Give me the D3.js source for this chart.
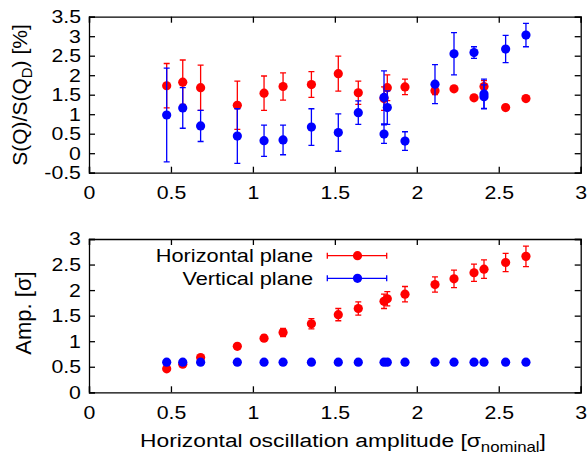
<!DOCTYPE html>
<html>
<head>
  <script src="https://cdn.jsdelivr.net/npm/d3@7"></script>
  <style>
    body { margin: 0; background: #fff; }
    text { font-family: "Liberation Sans", Arial, sans-serif; fill: #000; }
    .axis path, .axis line { stroke: #000; stroke-width: 1.3; }
    .axis text { font-size: 18.5px; }
  </style>
</head>
<body>
  <svg width="588" height="455" id="mainsvg"></svg>
  <script>
    // [x, value, error]
    const sqHorizontal = [
      [0.474, 1.73, 0.57], [0.572, 1.82, 0.57], [0.681, 1.68, 0.58], [0.905, 1.23, 0.62],
      [1.068, 1.54, 0.44], [1.184, 1.71, 0.35], [1.357, 1.76, 0.33], [1.521, 2.04, 0.45],
      [1.643, 1.55, 0.30], [1.800, 1.40, 0.30], [1.820, 1.68, 0.33], [1.928, 1.70, 0.20],
      [2.111, 1.60, 0.10], [2.227, 1.65, 0.05], [2.349, 1.42, 0.05], [2.410, 1.71, 0.15],
      [2.542, 1.17, 0.04], [2.666, 1.40, 0.04]
    ];
    const sqVertical = [
      [0.474, 0.98, 1.20], [0.572, 1.16, 0.52], [0.681, 0.70, 0.40], [0.905, 0.44, 0.70],
      [1.068, 0.32, 0.40], [1.184, 0.34, 0.38], [1.357, 0.67, 0.47], [1.521, 0.53, 0.48],
      [1.643, 1.04, 0.30], [1.800, 1.43, 0.68], [1.800, 0.49, 0.24], [1.820, 1.17, 0.43],
      [1.928, 0.31, 0.24], [2.111, 1.77, 0.50], [2.227, 2.55, 0.54], [2.349, 2.58, 0.15],
      [2.410, 1.52, 0.38], [2.410, 1.45, 0.30], [2.542, 2.67, 0.35], [2.666, 3.03, 0.30]
    ];
    const ampHorizontal = [
      [0.474, 0.46, 0.03], [0.572, 0.55, 0.03], [0.681, 0.68, 0.03], [0.905, 0.90, 0.04],
      [1.068, 1.06, 0.06], [1.184, 1.17, 0.08], [1.357, 1.34, 0.10], [1.521, 1.52, 0.12],
      [1.643, 1.64, 0.13], [1.800, 1.78, 0.14], [1.820, 1.83, 0.14], [1.928, 1.92, 0.15],
      [2.111, 2.11, 0.15], [2.227, 2.22, 0.17], [2.349, 2.34, 0.17], [2.410, 2.41, 0.18],
      [2.542, 2.54, 0.18], [2.666, 2.66, 0.20]
    ];
    const ampVertical = [
      [0.474, 0.59, 0], [0.572, 0.59, 0], [0.681, 0.59, 0], [0.905, 0.59, 0],
      [1.068, 0.59, 0], [1.184, 0.59, 0], [1.357, 0.59, 0], [1.521, 0.59, 0],
      [1.643, 0.59, 0], [1.800, 0.59, 0], [1.820, 0.59, 0], [1.928, 0.59, 0],
      [2.111, 0.59, 0], [2.227, 0.59, 0], [2.349, 0.59, 0], [2.410, 0.59, 0],
      [2.542, 0.59, 0], [2.666, 0.59, 0]
    ];
    const xTicks = [0, 0.5, 1, 1.5, 2, 2.5, 3];
    const sqTicks = [-0.5, 0, 0.5, 1, 1.5, 2, 2.5, 3, 3.5];
    const ampTicks = [0, 0.5, 1, 1.5, 2, 2.5, 3];
    const legendLabels = ["Horizontal plane", "Vertical plane"];
    const red = "#ff0000", blue = "#0000ff";

    const svg = d3.select('svg');
    const left = 89, right = 580.7;
    const stretch = 1.15; // the original lettering is a bit wider than tall
    const x = d3.scaleLinear().domain([0, 3]).range([left, right]);
    const ySq = d3.scaleLinear().domain([-0.5, 3.5]).range([172.7, 16.7]);
    const yAmp = d3.scaleLinear().domain([0, 3]).range([392.3, 239]);

    const fmt = d => String(d);

    function drawFrame(y, yticks) {
      const [yb, yt] = y.range();
      svg.append('g').attr('class', 'axis').attr('transform', `translate(0,${yb})`)
        .call(d3.axisBottom(x).tickValues(xTicks).tickSize(-6).tickPadding(13).tickFormat(fmt))
        .call(g => g.selectAll('text').attr('dy', '0.72em').attr('transform', `scale(${stretch},1)`));
      svg.append('g').attr('class', 'axis').attr('transform', `translate(0,${yt})`)
        .call(d3.axisTop(x).tickValues(xTicks).tickSize(-6).tickFormat(''));
      svg.append('g').attr('class', 'axis').attr('transform', `translate(${left},0)`)
        .call(d3.axisLeft(y).tickValues(yticks).tickSize(-6).tickPadding(7).tickFormat(fmt))
        .call(g => g.selectAll('text').attr('transform', `scale(${stretch},1)`));
      svg.append('g').attr('class', 'axis').attr('transform', `translate(${right},0)`)
        .call(d3.axisRight(y).tickValues(yticks).tickSize(-6).tickFormat(''));
      svg.selectAll('.axis .domain').attr('fill', 'none');
    }

    function drawSeries(data, y, color) {
      const g = svg.append('g');
      const cap = 3;
      const withErr = data.filter(d => d[2] > 0);
      g.selectAll('.eb').data(withErr).join('path')
        .attr('stroke', color).attr('stroke-width', 1.3).attr('fill', 'none')
        .attr('d', d => {
          const cx = x(d[0]), t = y(d[1] + d[2]), b = y(d[1] - d[2]);
          return `M${cx},${t}V${b}M${cx - cap},${t}H${cx + cap}M${cx - cap},${b}H${cx + cap}`;
        });
      g.selectAll('circle').data(data).join('circle')
        .attr('cx', d => x(d[0])).attr('cy', d => y(d[1])).attr('r', 4.6)
        .attr('fill', color);
    }

    drawFrame(ySq, sqTicks);
    drawFrame(yAmp, ampTicks);

    drawSeries(sqHorizontal, ySq, red);
    drawSeries(sqVertical, ySq, blue);
    drawSeries(ampHorizontal, yAmp, red);
    drawSeries(ampVertical, yAmp, blue);

    // legend
    const legend = svg.append('g');
    [red, blue].forEach((c, i) => {
      const ly = 255.7 + i * 22.6;
      legend.append('text').attr('transform', `translate(313,${ly}) scale(1.17,1)`).attr('dy', '0.36em')
        .attr('text-anchor', 'end').style('font-size', '18.6px').text(legendLabels[i]);
      legend.append('path').attr('stroke', c).attr('stroke-width', 1.3)
        .attr('d', `M327.3,${ly}H386.7M327.3,${ly - 3}V${ly + 3}M386.7,${ly - 3}V${ly + 3}`);
      legend.append('circle').attr('cx', 357.5).attr('cy', ly).attr('r', 4.6).attr('fill', c);
    });

    // axis titles
    const t1 = svg.append('text').attr('transform', 'translate(27,95) rotate(-90)')
      .attr('text-anchor', 'middle').style('font-size', '21px');
    t1.append('tspan').text('S(Q)/S(Q');
    t1.append('tspan').attr('dy', 5).style('font-size', '15px').text('D');
    t1.append('tspan').attr('dy', -5).text(') [%]');

    svg.append('text').attr('transform', 'translate(31,313) rotate(-90)')
      .attr('text-anchor', 'middle').style('font-size', '22px').text('Amp. [σ]');

    const t3 = svg.append('text').attr('transform', 'translate(343,447) scale(1.2,1)')
      .attr('text-anchor', 'middle').style('font-size', '19px');
    t3.append('tspan').text('Horizontal oscillation amplitude [σ');
    t3.append('tspan').attr('dy', 5).style('font-size', '14px').text('nominal');
    t3.append('tspan').attr('dy', -5).text(']');
  </script>
</body>
</html>
